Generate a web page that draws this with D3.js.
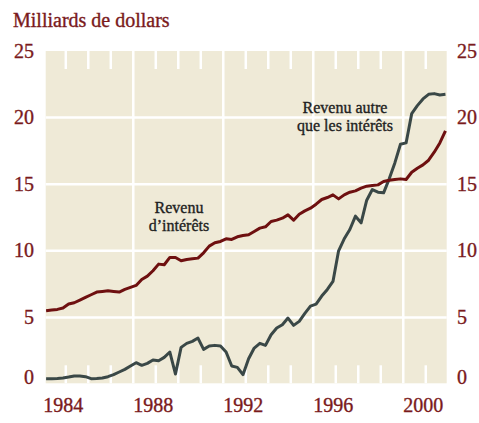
<!DOCTYPE html>
<html><head><meta charset="utf-8">
<script src="https://cdn.jsdelivr.net/npm/d3@7"></script>
<style>body{margin:0;background:#fff}svg{display:block}</style>
</head><body>
<script>
// Quarterly data, 1984Q1 - 2001Q4 (billions of dollars)
const startYear = 1984;
const interestIncome = [
 5.5,5.55,5.6,5.7, 6.0,6.1,6.3,6.5, 6.7,6.9,6.95,7.0, 6.95,6.9,7.1,7.25,
 7.4,7.85,8.1,8.5, 9.0,8.95,9.5,9.5, 9.25,9.35,9.4,9.45, 9.85,10.35,10.6,10.7,
 10.9,10.85,11.05,11.15, 11.2,11.45,11.7,11.8, 12.2,12.3,12.45,12.7, 12.3,12.75,13.0,13.2,
 13.5,13.85,14.0,14.2, 13.9,14.2,14.4,14.5, 14.7,14.85,14.9,14.95, 15.2,15.3,15.35,15.4,
 15.35,15.9,16.2,16.45, 16.8,17.4,18.1,19.0
];
const nonInterestIncome = [
 0.4,0.4,0.42,0.45, 0.52,0.6,0.6,0.55, 0.4,0.42,0.45,0.55, 0.7,0.9,1.1,1.35,
 1.6,1.4,1.55,1.8, 1.75,2.0,2.4,0.75, 2.75,3.05,3.2,3.45, 2.6,2.85,2.9,2.85,
 2.4,1.35,1.25,0.7, 1.9,2.7,3.05,2.9, 3.7,4.2,4.45,4.95, 4.4,4.7,5.3,5.85,
 6.0,6.6,7.1,7.7, 10.0,10.9,11.6,12.6, 12.1,13.8,14.6,14.4, 14.35,15.4,16.6,18.0,
 18.1,20.3,20.9,21.4, 21.75,21.8,21.7,21.75
];
const yTicks = [0,5,10,15,20,25];
const xLabelYears = [1984,1988,1992,1996,2000];
const title = "Milliards de dollars";
const labelInterest = ["Revenu","d\u2019intérêts"];
const labelNonInterest = ["Revenu autre","que les intérêts"];

const W = 479, H = 423;
const pL = 45.7, pR = 446.7, pT = 51, pB = 384, plotBottom = 383.3;
const FONT = "'Liberation Serif', 'Times New Roman', serif";
const RED = "#6e1010", GRAY = "#3a4847", LABEL = "#7a1a1c", BG = "#efead7";

const svg = d3.select("body").append("svg").attr("width", W).attr("height", H);

const x = d3.scaleLinear().domain([1984.107, 2001.93]).range([pL, pR]);
const y = d3.scaleLinear().domain([0, 25]).range([pB, pT]);
const t = i => startYear + 0.125 + i * 0.25;

// background
svg.append("rect").attr("x", pL).attr("y", pT).attr("width", pR - pL).attr("height", plotBottom - pT).attr("fill", BG);

// horizontal gridlines
svg.append("g").selectAll("line").data(yTicks.filter(v => v > 0 && v < 25)).join("line")
  .attr("x1", pL).attr("x2", pR).attr("y1", d => y(d)).attr("y2", d => y(d))
  .attr("stroke", "#fff").attr("stroke-width", 2.5);

// vertical gridlines & yearly ticks
const years = d3.range(1985, 2002);
const g = svg.append("g");
years.forEach(yr => {
  if (xLabelYears.includes(yr)) {
    g.append("line").attr("x1", x(yr)).attr("x2", x(yr)).attr("y1", pT).attr("y2", plotBottom)
      .attr("stroke", "#fff").attr("stroke-width", 2.5);
  } else {
    g.append("line").attr("x1", x(yr)).attr("x2", x(yr)).attr("y1", pT).attr("y2", pT + 18)
      .attr("stroke", "#fff").attr("stroke-width", 2.5);
    g.append("line").attr("x1", x(yr)).attr("x2", x(yr)).attr("y1", plotBottom - 18).attr("y2", plotBottom)
      .attr("stroke", "#fff").attr("stroke-width", 2.5);
  }
});

// lines
const line = d3.line().x((d, i) => x(t(i))).y(d => y(d));
svg.append("path").datum(nonInterestIncome).attr("d", line)
  .attr("fill", "none").attr("stroke", GRAY).attr("stroke-width", 3).attr("stroke-linejoin", "round");
svg.append("path").datum(interestIncome).attr("d", line)
  .attr("fill", "none").attr("stroke", RED).attr("stroke-width", 3).attr("stroke-linejoin", "round");

const txt = (sel, fill) => sel.attr("font-family", FONT).attr("fill", fill)
  .attr("stroke", fill).attr("stroke-width", 0.35);

// y labels
const ybase = v => v === 0 ? y(0) : y(v) + 6.5;
txt(svg.append("g").selectAll("text").data(yTicks).join("text")
  .attr("x", 34).attr("y", ybase).attr("text-anchor", "end")
  .attr("font-size", 20).text(d => d), LABEL);
txt(svg.append("g").selectAll("text").data(yTicks).join("text")
  .attr("x", 457).attr("y", ybase).attr("text-anchor", "start")
  .attr("font-size", 20).text(d => d), LABEL);

// x labels
txt(svg.append("g").selectAll("text").data(xLabelYears).join("text")
  .attr("x", d => x(d)).attr("y", 412).attr("text-anchor", "start")
  .attr("font-size", 20).text(d => d), LABEL);

// title
txt(svg.append("text").attr("x", 13).attr("y", 27).attr("font-size", 20).text(title), LABEL);

// annotations
const ann = (lines, cx, y0) => {
  lines.forEach((s, i) => txt(svg.append("text").attr("x", cx).attr("y", y0 + i * 17.5)
    .attr("text-anchor", "middle").attr("font-size", 16).text(s), "#1e1e1e"));
};
ann(labelInterest, 179, 213);
ann(labelNonInterest, 345, 113);
</script>
</body></html>
